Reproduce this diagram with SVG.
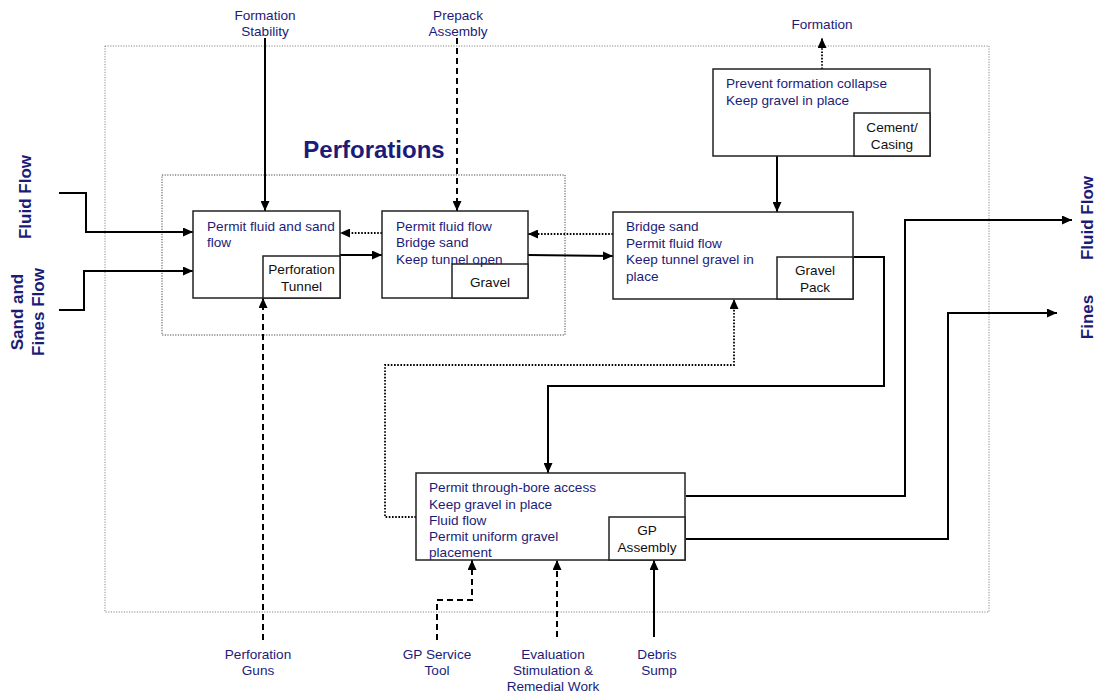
<svg xmlns="http://www.w3.org/2000/svg" width="1097" height="698" viewBox="0 0 1097 698">
<defs>
<marker id="ah" viewBox="0 0 10 9" refX="10" refY="4.5" markerWidth="10" markerHeight="9" markerUnits="userSpaceOnUse" orient="auto">
<path d="M0,0 L10,4.5 L0,9 z" fill="#000"/>
</marker>
</defs>
<style>
.lbl{font-family:"Liberation Sans",Arial,sans-serif;font-size:13.6px;fill:#1c1c78}
.sub{font-family:"Liberation Sans",Arial,sans-serif;font-size:13.6px;fill:#111;text-anchor:middle}
.big{font-family:"Liberation Sans",Arial,sans-serif;font-weight:bold;fill:#1c1c78}
.ext{font-family:"Liberation Sans",Arial,sans-serif;font-size:13.6px;fill:#1c1c78;text-anchor:middle}
.box{fill:#fff;stroke:#222;stroke-width:1.5}
.cont{fill:none;stroke-width:1;stroke-dasharray:1.2,1.4}
.c{fill:none;stroke:#000;stroke-width:2}
.dash{stroke-dasharray:6,4}
.dot{stroke-dasharray:1.6,1.6;stroke-width:1.8}
</style>
<rect width="1097" height="698" fill="#fff"/>
<!-- containers -->
<rect class="cont" x="105" y="46" width="884" height="566" stroke="#888"/>
<rect class="cont" x="162" y="175" width="403" height="160" stroke="#444"/>
<text class="big" x="374" y="158" font-size="24" text-anchor="middle">Perforations</text>
<!-- connectors -->
<g id="connectors">
<path class="c" d="M59,193 H86 V232 H193" marker-end="url(#ah)"/>
<path class="c" d="M59,310 H84 V271 H193" marker-end="url(#ah)"/>
<path class="c" d="M265,38 V211" marker-end="url(#ah)"/>
<path class="c dash" d="M457,38 V211" marker-end="url(#ah)"/>
<path class="c dash" d="M263,640 V298" marker-end="url(#ah)"/>
<path class="c" d="M340,255 H382" marker-end="url(#ah)"/>
<path class="c dot" d="M382,233 H340" marker-end="url(#ah)"/>
<path class="c" d="M528,255 L613,256" marker-end="url(#ah)"/>
<path class="c dot" d="M613,234 H528" marker-end="url(#ah)"/>
<path class="c dot" d="M822,69 V38" marker-end="url(#ah)"/>
<path class="c" d="M777,156 V212" marker-end="url(#ah)"/>
<path class="c" d="M854,257 H884 V386 H548 V473" marker-end="url(#ah)"/>
<path class="c dot" d="M416,517 H385 V365 H734 V299" marker-end="url(#ah)"/>
<path class="c" d="M686,496 H905 V220 H1072" marker-end="url(#ah)"/>
<path class="c" d="M686,539 H948 V313 H1057" marker-end="url(#ah)"/>
<path class="c dash" d="M437,640 V600 H472 V560" marker-end="url(#ah)"/>
<path class="c dash" d="M557,637 V560" marker-end="url(#ah)"/>
<path class="c" d="M654,637 V560" marker-end="url(#ah)"/>
</g>
<!-- nodes -->
<g id="node-perf-tunnel">
<rect class="box" x="193" y="211" width="147" height="87"/>
<rect class="box" x="263" y="256" width="77" height="42"/>
<text class="lbl" x="207" y="231">Permit fluid and sand</text>
<text class="lbl" x="207" y="247">flow</text>
<text class="sub" x="301.5" y="274">Perforation</text>
<text class="sub" x="301.5" y="291">Tunnel</text>
</g>
<g id="node-gravel">
<rect class="box" x="382" y="211" width="146" height="87"/>
<rect class="box" x="452" y="264" width="76" height="34"/>
<text class="lbl" x="396" y="231">Permit fluid flow</text>
<text class="lbl" x="396" y="247">Bridge sand</text>
<text class="lbl" x="396" y="263.5">Keep tunnel open</text>
<text class="sub" x="490" y="287">Gravel</text>
</g>
<g id="node-gravel-pack">
<rect class="box" x="613" y="212" width="240" height="87"/>
<rect class="box" x="777" y="257" width="76" height="42"/>
<text class="lbl" x="626" y="231">Bridge sand</text>
<text class="lbl" x="626" y="247.5">Permit fluid flow</text>
<text class="lbl" x="626" y="264">Keep tunnel gravel in</text>
<text class="lbl" x="626" y="280.5">place</text>
<text class="sub" x="815" y="275">Gravel</text>
<text class="sub" x="815" y="291.5">Pack</text>
</g>
<g id="node-cement">
<rect class="box" x="713" y="69" width="217" height="87"/>
<rect class="box" x="854" y="113" width="76" height="43"/>
<text class="lbl" x="726" y="88">Prevent formation collapse</text>
<text class="lbl" x="726" y="104.5">Keep gravel in place</text>
<text class="sub" x="892" y="132">Cement/</text>
<text class="sub" x="892" y="149">Casing</text>
</g>
<g id="node-gp-assembly">
<rect class="box" x="416" y="473" width="269" height="87"/>
<rect class="box" x="609" y="517" width="76" height="43"/>
<text class="lbl" x="429" y="492">Permit through-bore access</text>
<text class="lbl" x="429" y="508.5">Keep gravel in place</text>
<text class="lbl" x="429" y="524.5">Fluid flow</text>
<text class="lbl" x="429" y="541">Permit uniform gravel</text>
<text class="lbl" x="429" y="557">placement</text>
<text class="sub" x="647" y="535">GP</text>
<text class="sub" x="647" y="551.5">Assembly</text>
</g>
<!-- external labels -->
<g id="lbl-formation-stability"><text class="ext" x="265" y="20">Formation</text><text class="ext" x="265" y="36">Stability</text></g>
<g id="lbl-prepack"><text class="ext" x="458" y="20">Prepack</text><text class="ext" x="458" y="36">Assembly</text></g>
<g id="lbl-formation"><text class="ext" x="822" y="29">Formation</text></g>
<g id="lbl-perf-guns"><text class="ext" x="258" y="659">Perforation</text><text class="ext" x="258" y="675">Guns</text></g>
<g id="lbl-gp-service"><text class="ext" x="437" y="659">GP Service</text><text class="ext" x="437" y="675">Tool</text></g>
<g id="lbl-evaluation"><text class="ext" x="553" y="659">Evaluation</text><text class="ext" x="553" y="675">Stimulation &amp;</text><text class="ext" x="553" y="691">Remedial Work</text></g>
<g id="lbl-debris"><text class="ext" x="657" y="659">Debris</text><text class="ext" x="659" y="675">Sump</text></g>
<g id="lbl-fluid-in"><text class="big" font-size="17" text-anchor="middle" transform="translate(31,197) rotate(-90)">Fluid Flow</text></g>
<g id="lbl-sand-in"><text class="big" font-size="17" text-anchor="middle" transform="translate(23,312) rotate(-90)">Sand and</text><text class="big" font-size="17" text-anchor="middle" transform="translate(44,312) rotate(-90)">Fines Flow</text></g>
<g id="lbl-fluid-out"><text class="big" font-size="17" text-anchor="middle" transform="translate(1093,218) rotate(-90)">Fluid Flow</text></g>
<g id="lbl-fines-out"><text class="big" font-size="17" text-anchor="middle" transform="translate(1093,317) rotate(-90)">Fines</text></g>
</svg>
